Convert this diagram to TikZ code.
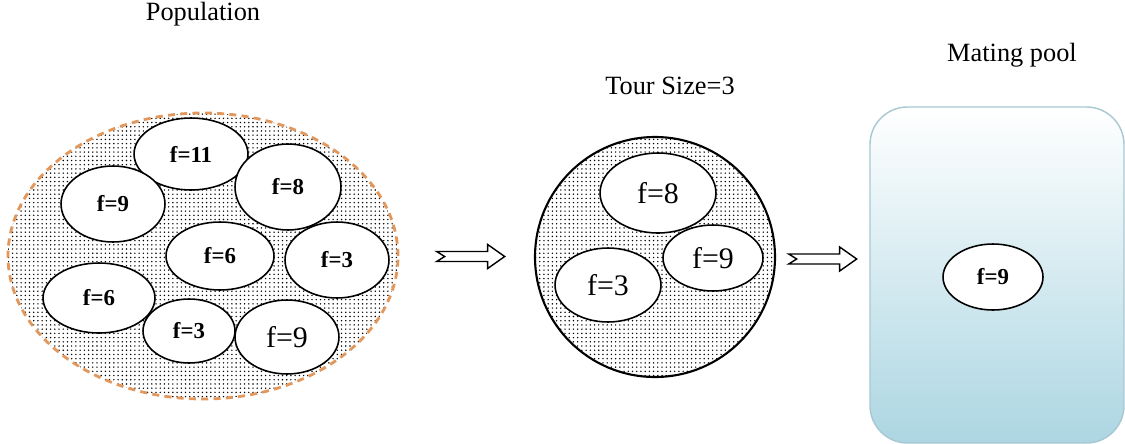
\documentclass[tikz,border=0pt]{standalone}
\usepackage{fontspec}
\setmainfont{Liberation Serif}
\usetikzlibrary{positioning,shapes.geometric,patterns,calc}

\definecolor{poolblue}{RGB}{172,214,226}
\definecolor{pooledge}{RGB}{168,200,210}
\definecolor{dashorange}{RGB}{226,152,92}

\pgfdeclarepatternformonly{pooldots}{\pgfqpoint{-1pt}{-1pt}}{\pgfqpoint{1pt}{1pt}}{\pgfqpoint{2.4pt}{2.4pt}}%
{\pgfpathcircle{\pgfqpoint{0pt}{0pt}}{0.45pt}\pgfusepath{fill}}

\tikzset{
	indiv/.style 2 args={ellipse, draw, line width=0.9pt, fill=white, inner sep=0pt,
		minimum width=#1*0.04cm, minimum height=#2*0.04cm},
	boldlbl/.style={font=\fontsize{13}{15}\selectfont\bfseries},
	plainlbl/.style={font=\fontsize{17}{19}\selectfont},
	title/.style={font=\fontsize{15}{18}\selectfont},
	passarrow/.pic={
		\draw[line width=0.8pt, line join=miter]
		(-34,-5) -- (17,-5) -- (17,-12) -- (34,0) -- (17,12) -- (17,5) -- (-34,5) -- (-26,0) -- cycle;
	}
}

\begin{document}
\begin{tikzpicture}[x=0.02cm, y=-0.02cm, >=stealth]
	
	\useasboundingbox (0,0) rectangle (1125,443);
	
	% Draw the three areas
	\node[ellipse, draw=dashorange, dash pattern=on 4pt off 3pt, line width=1.6pt,
		pattern=pooldots, minimum width=390*0.02cm, minimum height=286*0.02cm] (pop) at (203,256) {};
	\node[circle, draw, line width=1.2pt, pattern=pooldots, minimum size=240*0.02cm] (tour) at (655,257) {};
	\node[rectangle, rounded corners=0.75cm, draw=pooledge, line width=0.8pt,
		top color=white, bottom color=poolblue, minimum width=254*0.02cm,
		minimum height=336*0.02cm] (pool) at (997,275) {};
	
	% Add titles
	\node[title] (poptitle) at (203,14) {Population};
	\node[title] (tourtitle) at (670,86) {Tour Size=3};
	\node[title] (pooltitle) at (1012,55) {Mating pool};
	
	% Individuals of the population
	\foreach \nm/\cx/\cy/\rx/\ry/\st/\lbl in {
		p1/191/154/57/36/boldlbl/{f=11},
		p2/113/204/52/38/boldlbl/{f=9},
		p3/288/187/53/43/boldlbl/{f=8},
		p4/220/256/54/34/boldlbl/{f=6},
		p5/337/260/52/38/boldlbl/{f=3},
		p6/99/298/56/35/boldlbl/{f=6},
		p7/189/331/46/32/boldlbl/{f=3},
		p8/287/337/52/37/plainlbl/{f=9}}
	\node[indiv={\rx}{\ry}, \st] (\nm) at (\cx,\cy) {\lbl};
	
	% Tournament
	\node[indiv={58}{40}, plainlbl] (t1) at (658,193) {f=8};
	\node[indiv={50}{33}, plainlbl] (t2) at (713,258) {f=9};
	\node[indiv={53}{37}, plainlbl] (t3) at (608,285) {f=3};
	
	% Winner
	\node[indiv={50}{33}, boldlbl] (winner) at (993,277) {f=9};
	
	% Add arrows
	\coordinate (arrA) at ($(pop.east)!0.5!(tour.west)+(4,0)$);
	\coordinate (arrB) at ($(tour.east)!0.5!(pool.west |- tour.east)+(0,2)$);
	\pic at (arrA) {passarrow};
	\pic at (arrB) {passarrow};
	
\end{tikzpicture}
\end{document}
